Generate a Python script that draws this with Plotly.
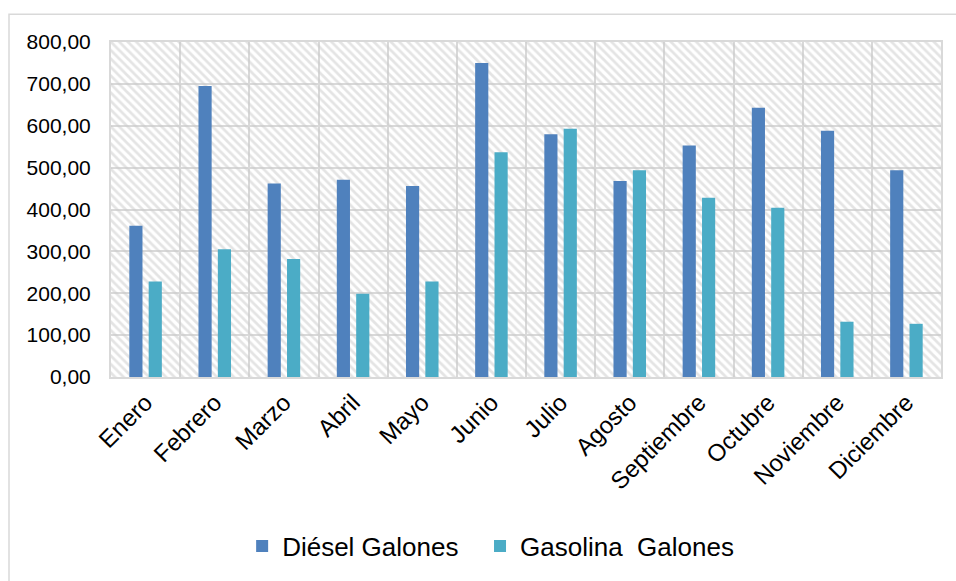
import plotly.graph_objects as go

# Monthly fuel consumption (gallons)
months = ["Enero", "Febrero", "Marzo", "Abril", "Mayo", "Junio",
          "Julio", "Agosto", "Septiembre", "Octubre", "Noviembre", "Diciembre"]
diesel = [361, 695, 462, 471, 456, 750, 580, 468, 553, 643, 588, 494]
gasolina = [228, 305, 282, 199, 228, 537, 593, 494, 428, 404, 132, 127]
y_ticks = [0, 100, 200, 300, 400, 500, 600, 700, 800]

FONT = "Liberation Sans, Arial, sans-serif"
GRID = "#d9d9d9"
y_max = y_ticks[-1]
n = len(months)
xpos = list(range(n))
x_range = [-0.5, n - 0.5]

fig = go.Figure()

# Hatched background filling the plotting region (base axes, below the bars)
fig.add_trace(go.Scatter(
    x=[x_range[0], x_range[1], x_range[1], x_range[0], x_range[0]],
    y=[0, 0, y_max, y_max, 0],
    mode="lines", line=dict(width=0),
    fill="toself", fillcolor="rgba(0,0,0,0)",
    fillpattern=dict(shape="\\", fgcolor="#c9c9c9", bgcolor="rgba(255,255,255,0)",
                     size=6, solidity=0.45),
    hoverinfo="skip", showlegend=False,
    xaxis="x", yaxis="y",
))

# Bars live on an overlaid pair of axes so they sit above the hatching
fig.add_trace(go.Bar(
    x=xpos, y=diesel, name="Diésel Galones",
    marker=dict(color="#4f81bd", line=dict(width=0)),
    xaxis="x2", yaxis="y2", legend="legend",
))
fig.add_trace(go.Bar(
    x=xpos, y=gasolina, name="Gasolina\u00a0 Galones",
    marker=dict(color="#4bacc6", line=dict(width=0)),
    xaxis="x2", yaxis="y2", legend="legend2",
))

# Outer chart frame
fig.add_shape(type="rect", xref="paper", yref="paper",
              x0=-0.1229, x1=1.03, y0=-0.63, y1=1.083,
              line=dict(color=GRID, width=1.5), fillcolor="rgba(0,0,0,0)", layer="below")

legend_font = dict(family=FONT, size=26, color="#000000")
fig.update_layout(
    width=956, height=581,
    margin=dict(l=111, r=15, t=42, b=198),
    paper_bgcolor="white", plot_bgcolor="white",
    barmode="group", bargap=0.44, bargroupgap=0.32,
    separators=",.",
    font=dict(family=FONT, color="#000000", size=21),
    showlegend=True,
    legend=dict(orientation="h", x=0.158, xanchor="left", y=-0.505, yanchor="middle",
                font=legend_font, itemwidth=30, bgcolor="rgba(0,0,0,0)"),
    legend2=dict(orientation="h", x=0.4446, xanchor="left", y=-0.505, yanchor="middle",
                 font=legend_font, itemwidth=30, bgcolor="rgba(0,0,0,0)"),
    xaxis=dict(
        range=x_range,
        tickmode="array", tickvals=xpos, ticktext=months, tickangle=-45,
        showgrid=False, zeroline=False,
        minor=dict(tick0=0.5, dtick=1, showgrid=True, gridcolor=GRID, gridwidth=2, ticks=""),
        showline=True, linecolor=GRID, linewidth=2, mirror=True,
        ticks="", tickfont=dict(family=FONT, size=24, color="#000000"),
    ),
    yaxis=dict(
        range=[0, y_max], tickmode="array", tickvals=y_ticks, tickformat=".2f",
        showgrid=True, gridcolor=GRID, gridwidth=2, zeroline=False,
        showline=True, linecolor=GRID, linewidth=2, mirror=True,
        ticks="", ticklabelstandoff=14,
        tickfont=dict(family=FONT, size=21, color="#000000"),
    ),
    xaxis2=dict(overlaying="x", range=x_range, visible=False, showgrid=False),
    yaxis2=dict(overlaying="y", range=[0, y_max], visible=False, showgrid=False),
)

fig.write_html("out.html")
